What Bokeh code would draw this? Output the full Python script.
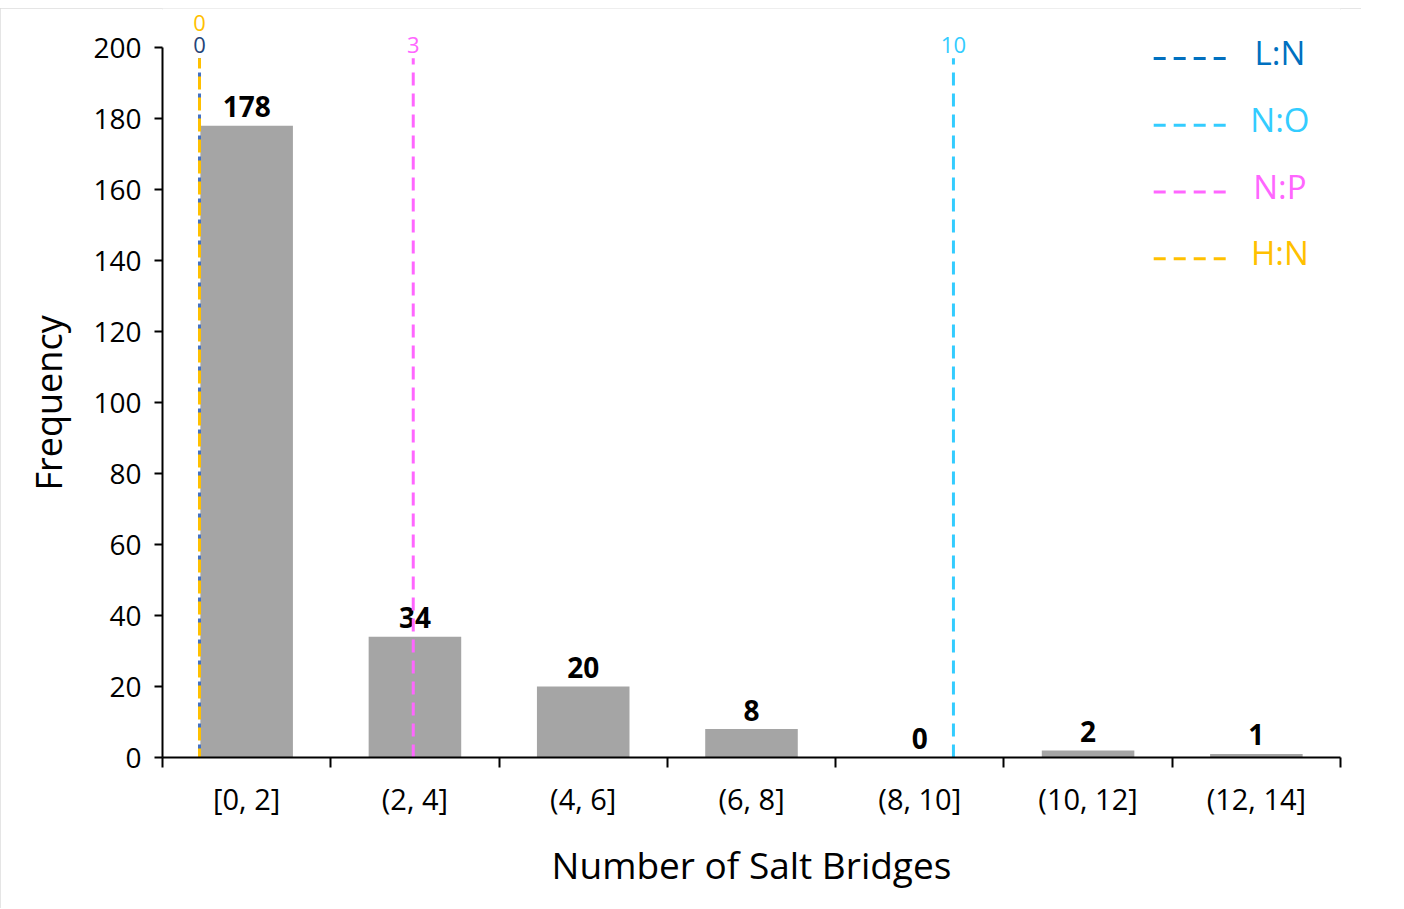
from bokeh.plotting import figure
from bokeh.models import Range1d, FixedTicker, Title, ColumnDataSource
from bokeh.core.properties import value
from bokeh.embed import file_html
from bokeh.resources import INLINE

# ---------------- data ----------------
bins = ["[0, 2]", "(2, 4]", "(4, 6]", "(6, 8]", "(8, 10]", "(10, 12]", "(12, 14]"]
frequency = [178, 34, 20, 8, 0, 2, 1]
y_ticks = [0, 20, 40, 60, 80, 100, 120, 140, 160, 180, 200]

ratio_names = ["L:N", "N:O", "N:P", "H:N"]
ratio_values = [0, 10, 3, 0]
ratio_pos = [0.22, 4.70, 1.49, 0.22]          # position of the marker on the bin axis
line_colors = ["#4472C4", "#33CCFF", "#FF66FF", "#FFC000"]
label_colors = ["#264478", "#33CCFF", "#FF66FF", "#FFC000"]
legend_colors = ["#0070C0", "#33CCFF", "#FF66FF", "#FFC000"]

FONT = "Open Sans"
line_top = 197

# ---------------- figure ----------------
p = figure(width=1361, height=900,
           x_range=Range1d(0, len(bins)), y_range=Range1d(0, 211),
           output_backend="svg", toolbar_location=None,
           min_border_left=162, min_border_right=21,
           min_border_top=0, min_border_bottom=151)
p.grid.visible = False
p.outline_line_color = None
p.background_fill_color = "white"
p.border_fill_color = "white"
p.styles = {"margin-top": "8px", "outline": "2px solid #DCDCDC", "outline-offset": "-2px"}

centers = [i + 0.5 for i in range(len(bins))]
src = ColumnDataSource(dict(x=centers, top=frequency, lab=[str(v) for v in frequency]))
p.vbar(x="x", top="top", width=0.55, source=src, fill_color="#A5A5A5", line_color=None)
p.text(x="x", y="top", text="lab", source=src, text_align="center",
       text_baseline="alphabetic", y_offset=-19, text_font=value(FONT),
       text_font_style="bold", text_font_size="28px", text_color="black")

# vertical marker lines
seen = {}
for i, (name, v, pos) in enumerate(zip(ratio_names, ratio_values, ratio_pos)):
    stack = seen.get(pos, 0)
    seen[pos] = stack + 1
    p.segment(x0=[pos], y0=[0], x1=[pos], y1=[line_top], line_color=line_colors[i],
              line_width=3, line_dash="13 8", line_dash_offset=stack * 4)
    p.text(x=[pos], y=[line_top], text=[str(v)], text_align="center",
           text_baseline="alphabetic", y_offset=-13 - 22 * stack,
           text_font=value(FONT), text_font_size="22px", text_color=label_colors[i])

# manual legend
leg_x0, leg_x1, leg_tx = 5.89, 6.32, 6.64
for i, name in enumerate(ratio_names):
    yy = 196.9 - i * 18.8
    p.segment(x0=[leg_x0], y0=[yy], x1=[leg_x1], y1=[yy], line_color=legend_colors[i],
              line_width=3, line_dash="12 8")
    p.text(x=[leg_tx], y=[yy], text=[name], text_align="center", text_baseline="middle",
           y_offset=-6, text_font=value(FONT), text_font_size="33px",
           text_color=legend_colors[i])

# axes
ya = p.yaxis[0]
ya.ticker = FixedTicker(ticks=y_ticks)
ya.bounds = (0, 200)
ya.major_tick_in = 0
ya.major_tick_out = 8
ya.minor_tick_out = 0
ya.minor_tick_in = 0
ya.axis_line_width = 2
ya.major_tick_line_width = 2
ya.axis_line_color = "black"
ya.major_tick_line_color = "black"
ya.major_label_standoff = 13
ya.major_label_text_font = FONT
ya.major_label_text_font_size = "28px"
ya.major_label_text_color = "black"

xa = p.xaxis[0]
xa.ticker = FixedTicker(ticks=centers, minor_ticks=list(range(len(bins) + 1)))
xa.major_label_overrides = {c: b for c, b in zip(centers, bins)}
xa.major_tick_in = 0
xa.major_tick_out = 0
xa.minor_tick_in = 0
xa.minor_tick_out = 10
xa.minor_tick_line_width = 2
xa.minor_tick_line_color = "black"
xa.axis_line_width = 2
xa.axis_line_color = "black"
xa.major_label_standoff = 11
xa.major_label_text_font = FONT
xa.major_label_text_font_size = "29px"
xa.major_label_text_color = "black"
xa.axis_label = "Number of Salt Bridges"
xa.axis_label_text_font = FONT
xa.axis_label_text_font_size = "37px"
xa.axis_label_text_font_style = "normal"
xa.axis_label_text_color = "black"
xa.axis_label_standoff = 18

p.add_layout(Title(text="Frequency", align="left", offset=267, standoff=35,
                   text_font=FONT, text_font_size="36px", text_font_style="normal",
                   text_color="black"), "left")

open("out.html", "w").write(file_html(p, INLINE))
